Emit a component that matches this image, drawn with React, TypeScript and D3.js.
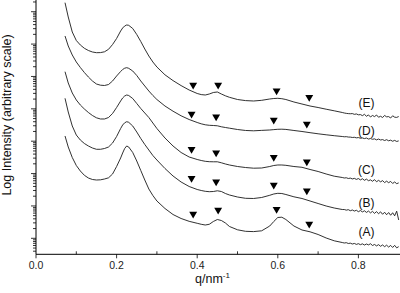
import React from 'react';
import * as d3 from 'd3';

// q grid (nm^-1), shared by all five curves
const Q_GRID = [
  0.072, 0.08, 0.09, 0.10, 0.11, 0.12, 0.13, 0.14, 0.15, 0.16,
  0.17, 0.18, 0.19, 0.20, 0.21, 0.215, 0.22, 0.225, 0.23, 0.24,
  0.25, 0.26, 0.27, 0.28, 0.29, 0.30, 0.32, 0.34, 0.36, 0.38,
  0.40, 0.41, 0.42, 0.43, 0.44, 0.45, 0.46, 0.47, 0.48, 0.50,
  0.52, 0.54, 0.56, 0.58, 0.59, 0.60, 0.61, 0.62, 0.64, 0.66,
  0.68, 0.70, 0.72, 0.74, 0.76,
  0.765, 0.77, 0.775, 0.78, 0.785, 0.79, 0.795, 0.80, 0.805, 0.81,
  0.815, 0.82, 0.825, 0.83, 0.835, 0.84, 0.845, 0.85, 0.855, 0.86,
  0.865, 0.87, 0.875, 0.88, 0.885, 0.89, 0.895, 0.90,
];

// log10 intensity, arbitrary offsets per sample
const LOG_E = [
  7.279, 6.837, 6.373, 6.111, 5.972, 5.870, 5.802, 5.756, 5.734, 5.737,
  5.762, 5.839, 5.987, 6.173, 6.404, 6.497, 6.559, 6.590, 6.580, 6.482,
  6.296, 6.080, 5.848, 5.632, 5.447, 5.292, 5.051, 4.872, 4.718, 4.582,
  4.474, 4.440, 4.427, 4.458, 4.504, 4.520, 4.458, 4.402, 4.356, 4.288,
  4.254, 4.242, 4.263, 4.304, 4.319, 4.325, 4.313, 4.288, 4.211, 4.149,
  4.087, 4.041, 3.988, 3.939, 3.887,
  3.871, 3.860, 3.852, 3.848, 3.853, 3.830, 3.842, 3.815, 3.822, 3.790,
  3.831, 3.770, 3.812, 3.748, 3.795, 3.760, 3.809, 3.740, 3.770, 3.733,
  3.794, 3.752, 3.760, 3.717, 3.785, 3.742, 3.735, 3.762,
];
const LOG_D = [
  6.250, 5.941, 5.663, 5.447, 5.277, 5.122, 4.983, 4.860, 4.767, 4.730,
  4.721, 4.751, 4.860, 5.014, 5.153, 5.215, 5.255, 5.271, 5.252, 5.169,
  5.030, 4.860, 4.705, 4.551, 4.412, 4.288, 4.087, 3.927, 3.785, 3.670,
  3.578, 3.537, 3.507, 3.491, 3.485, 3.476, 3.445, 3.423, 3.402, 3.361,
  3.331, 3.321, 3.334, 3.346, 3.358, 3.368, 3.371, 3.364, 3.331, 3.300,
  3.263, 3.229, 3.198, 3.170, 3.145,
  3.136, 3.140, 3.128, 3.126, 3.115, 3.121, 3.104, 3.112, 3.092, 3.100,
  3.081, 3.098, 3.066, 3.082, 3.060, 3.072, 3.041, 3.066, 3.038, 3.050,
  3.021, 3.047, 3.012, 3.032, 2.998, 3.025, 2.992, 3.010,
];
const LOG_C = [
  5.147, 4.798, 4.489, 4.273, 4.118, 3.995, 3.887, 3.794, 3.723, 3.686,
  3.686, 3.732, 3.856, 4.041, 4.242, 4.335, 4.396, 4.427, 4.412, 4.319,
  4.165, 4.010, 3.871, 3.732, 3.562, 3.392, 3.099, 2.852, 2.651, 2.512,
  2.435, 2.404, 2.379, 2.367, 2.364, 2.364, 2.333, 2.296, 2.265, 2.218,
  2.187, 2.166, 2.172, 2.218, 2.249, 2.265, 2.265, 2.255, 2.218, 2.194,
  2.126, 2.064, 1.987, 1.919, 1.879,
  1.863, 1.870, 1.848, 1.860, 1.834, 1.852, 1.820, 1.846, 1.805, 1.840,
  1.792, 1.828, 1.780, 1.805, 1.762, 1.812, 1.748, 1.790, 1.745, 1.782,
  1.722, 1.765, 1.718, 1.758, 1.695, 1.740, 1.688, 1.712,
];
const LOG_B = [
  4.325, 3.902, 3.470, 3.191, 3.037, 2.929, 2.852, 2.790, 2.750, 2.750,
  2.774, 2.821, 2.944, 3.145, 3.392, 3.500, 3.568, 3.602, 3.584, 3.470,
  3.284, 3.083, 2.898, 2.728, 2.558, 2.419, 2.157, 1.925, 1.740, 1.601,
  1.508, 1.477, 1.452, 1.440, 1.446, 1.468, 1.446, 1.384, 1.338, 1.276,
  1.236, 1.230, 1.261, 1.329, 1.369, 1.390, 1.384, 1.353, 1.282, 1.230,
  1.153, 1.075, 0.998, 0.936, 0.890,
  0.890, 0.870, 0.885, 0.852, 0.875, 0.842, 0.866, 0.822, 0.858, 0.816,
  0.850, 0.800, 0.842, 0.786, 0.832, 0.770, 0.826, 0.758, 0.818, 0.742,
  0.806, 0.728, 0.796, 0.712, 0.790, 0.695, 0.838, 0.566,
];
const LOG_A = [
  3.161, 2.821, 2.496, 2.249, 2.079, 1.947, 1.863, 1.817, 1.801, 1.807,
  1.832, 1.869, 1.987, 2.218, 2.481, 2.635, 2.774, 2.852, 2.821, 2.651,
  2.388, 2.095, 1.801, 1.523, 1.322, 1.153, 0.921, 0.735, 0.612, 0.525,
  0.464, 0.433, 0.411, 0.433, 0.519, 0.581, 0.550, 0.473, 0.365, 0.263,
  0.216, 0.207, 0.232, 0.380, 0.519, 0.643, 0.652, 0.581, 0.380, 0.257,
  0.201, 0.118, 0.010, -0.077, -0.130,
  -0.145, -0.135, -0.160, -0.150, -0.176, -0.158, -0.188, -0.166, -0.197, -0.171,
  -0.208, -0.176, -0.203, -0.168, -0.222, -0.190, -0.234, -0.196, -0.246, -0.205,
  -0.258, -0.212, -0.270, -0.220, -0.282, -0.218, -0.295, -0.258,
];

// peak markers (down triangles)
const MARK_Q_AE = [0.39, 0.452, 0.597, 0.678];
const MARK_Q_BCD = [0.386, 0.447, 0.59, 0.672];
const MARK_E = [4.736, 4.736, 4.560, 4.356];
const MARK_D = [3.840, 3.757, 3.655, 3.531];
const MARK_C = [2.750, 2.645, 2.503, 2.367];
const MARK_B = [1.854, 1.749, 1.647, 1.471];
const MARK_A = [0.751, 0.875, 0.896, 0.442];

const LABELS = ['(A)', '(B)', '(C)', '(D)', '(E)'];
const LABEL_Q = 0.82;
const LABEL_LOG = [0.195, 1.100, 2.110, 3.324, 4.171];

const X_MAJOR = [0, 0.2, 0.4, 0.6, 0.8];
const X_MINOR = [0.1, 0.3, 0.5, 0.7];

const FONT = '"Liberation Sans", Arial, sans-serif';

export default function App() {
  const width = 400, height = 293;
  const left = 36, bottom = 254.3, right = 398.7;

  const x = d3.scaleLinear().domain([0, 0.9]).range([left, right]);
  const y = d3.scaleLog().domain([10 ** -0.494, 10 ** 7.362]).range([bottom, 0]);

  const line = d3.line<[number, number]>()
    .x(d => x(d[0]))
    .y(d => y(10 ** d[1]));

  const series = [
    { values: LOG_A, marks: MARK_A, mq: MARK_Q_AE },
    { values: LOG_B, marks: MARK_B, mq: MARK_Q_BCD },
    { values: LOG_C, marks: MARK_C, mq: MARK_Q_BCD },
    { values: LOG_D, marks: MARK_D, mq: MARK_Q_BCD },
    { values: LOG_E, marks: MARK_E, mq: MARK_Q_AE },
  ];

  const tri = d3.symbol().type(d3.symbolTriangle).size(27)();

  const yTicks = y.ticks();
  const isMajor = (t: number) => Math.abs(Math.log10(t) - Math.round(Math.log10(t))) < 1e-6;

  return (
    <svg width={width} height={height} style={{ position: 'absolute', left: 0, top: 0, background: '#fff' }}
      fontFamily={FONT}>
      {series.map((s, i) => (
        <path key={i}
          d={line(Q_GRID.map((q, j) => [q, s.values[j]] as [number, number])) || ''}
          fill="none" stroke="#1a1a1a" strokeWidth={0.9} />
      ))}
      {series.map((s, i) => s.marks.map((m, j) => (
        <path key={`m${i}-${j}`} d={tri || ''} fill="#000"
          transform={`translate(${x(s.mq[j])},${y(10 ** m)}) rotate(180)`} />
      )))}
      {LABELS.map((l, i) => (
        <text key={l} x={x(LABEL_Q)} y={y(10 ** LABEL_LOG[i])} dy="0.35em"
          textAnchor="middle" fontSize={12} fill="#111">{l}</text>
      ))}

      {/* y axis */}
      <line x1={left} x2={left} y1={0} y2={bottom} stroke="#000" strokeWidth={1} />
      {yTicks.map((t, i) => (
        <line key={`yt${i}`} x1={left - (isMajor(t) ? 5 : 3)} x2={left}
          y1={y(t)} y2={y(t)} stroke="#000" strokeWidth={0.8} />
      ))}

      {/* x axis */}
      <line x1={left} x2={width} y1={bottom} y2={bottom} stroke="#000" strokeWidth={1} />
      {X_MAJOR.map(t => (
        <g key={`xm${t}`}>
          <line x1={x(t)} x2={x(t)} y1={bottom} y2={bottom + 4} stroke="#000" strokeWidth={0.8} />
          <text x={x(t)} y={269} textAnchor="middle" fontSize={10.5} fill="#222">
            {d3.format('.1f')(t)}
          </text>
        </g>
      ))}
      {X_MINOR.map(t => (
        <line key={`xn${t}`} x1={x(t)} x2={x(t)} y1={bottom} y2={bottom - 3} stroke="#000" strokeWidth={0.8} />
      ))}

      <text x={195} y={283} fontSize={12.5} fill="#111">
        q/nm<tspan dy={-5} fontSize={8}>-1</tspan>
      </text>
      <text transform="translate(11,115) rotate(-90)" textAnchor="middle" fontSize={12.5} fill="#111">
        Log Intensity (arbitrary scale)
      </text>
    </svg>
  );
}
